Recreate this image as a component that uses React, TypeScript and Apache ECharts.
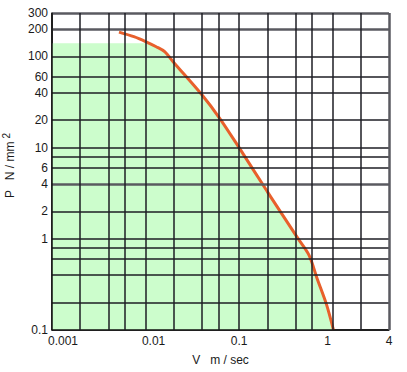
import React, { useEffect, useRef } from "react";
import * as echarts from "echarts";

// Curve of permissible load P (N/mm²) vs sliding speed V (m/sec)
const curveV = [0.0052, 0.0075, 0.01, 0.013, 0.016, 0.02, 0.04, 0.062, 0.1, 0.2, 0.42, 0.56, 0.68, 0.86, 1.02];
const curveP = [185, 165, 146, 128, 113, 86, 38, 21, 10, 3.3, 1.03, 0.66, 0.37, 0.19, 0.1];

// Upper pressure limit of the shaded region and where it meets the curve
const limitP = 140;
const limitV = 0.011;

// Axis extents
const xMin = 0.001;
const xMax = 4;
const yMin = 0.1;
const yMax = 300;

// Grid lines and labels
const xGridValues = [0.002, 0.004, 0.006, 0.01, 0.02, 0.04, 0.06, 0.1, 0.2, 0.4, 0.6, 1, 2];
const yGridValues = [0.2, 0.4, 0.6, 0.8, 1, 2, 4, 6, 8, 10, 20, 40, 60, 100, 200];
const yLabelValues = [0.1, 1, 2, 4, 6, 10, 20, 40, 60, 100, 200, 300];
const thickYValues = [4, 200, 300];

const FONT = "'Liberation Sans', Arial, sans-serif";
const TEXT = "#1a1a1a";
const GRID = "#1e1e24";
const THICK = "#5a5a60";
const AXIS = "#111111";

export default function App() {
  const ref = useRef<HTMLDivElement>(null);

  useEffect(() => {
    if (!ref.current) return;
    const chart = echarts.init(ref.current, null, { renderer: "svg" });

    const curveData = curveV.map((v, i) => [v, curveP[i]]);
    const greenPoly: number[][] = [
      [xMin, yMin],
      [xMin, limitP],
      [limitV, limitP],
      ...curveData.filter((d) => d[1] < limitP),
      [curveV[curveV.length - 1], yMin],
    ];

    const hLines = [yMin, ...yGridValues, yMax].map((v) => ({
      yAxis: v,
      lineStyle: {
        color: v === yMin ? AXIS : thickYValues.includes(v) ? THICK : GRID,
        width: thickYValues.includes(v) ? 2.5 : 1.5,
        type: "solid",
      },
      label: {
        show: yLabelValues.includes(v),
        position: "start",
        distance: 4,
        formatter: String(v),
        color: TEXT,
        fontSize: 12,
        fontFamily: FONT,
      },
    }));
    const vLines = [xMin, ...xGridValues, xMax].map((v) => ({
      xAxis: v,
      lineStyle: {
        color: v === xMin ? AXIS : v === xMax ? THICK : GRID,
        width: v === xMax ? 2.5 : 1.5,
        type: "solid",
      },
      label: { show: false },
    }));

    const xLabelPad: Record<string, number[]> = {
      "0.001": [0, 0, 0, 22],
      "0.01": [0, 0, 0, 16],
      "1": [0, 10, 0, 0],
    };

    chart.setOption({
      animation: false,
      backgroundColor: "#ffffff",
      grid: {
        left: 52,
        right: 18,
        top: 13,
        bottom: 42,
        containLabel: false,
        outerBoundsMode: "none",
      },
      xAxis: {
        type: "log",
        logBase: 10,
        min: xMin,
        max: xMax,
        name: "V   m / sec",
        nameLocation: "middle",
        nameGap: 24,
        nameTextStyle: { color: TEXT, fontSize: 12, fontFamily: FONT },
        axisLine: { show: true, lineStyle: { color: AXIS, width: 1.5 } },
        axisTick: { show: false },
        splitLine: { show: false },
        axisLabel: {
          margin: 5,
          color: TEXT,
          fontSize: 12,
          fontFamily: FONT,
          showMinLabel: true,
          showMaxLabel: true,
          formatter: (val: number) => {
            const s = String(parseFloat(val.toPrecision(6)));
            return xLabelPad[s] ? `{p${s.replace(".", "_")}|${s}}` : s;
          },
          rich: Object.fromEntries(
            Object.entries(xLabelPad).map(([k, pad]) => [
              `p${k.replace(".", "_")}`,
              { padding: pad, color: TEXT, fontSize: 12, fontFamily: FONT },
            ])
          ),
        },
      },
      yAxis: {
        type: "log",
        logBase: 10,
        min: yMin,
        max: yMax,
        name: "P   N / mm{s|2}",
        nameLocation: "middle",
        nameGap: 34,
        nameTextStyle: {
          color: TEXT,
          fontSize: 12,
          fontFamily: FONT,
          padding: [0, 0, 0, 12],
          rich: {
            s: { fontSize: 10, fontFamily: FONT, color: TEXT, padding: [0, 0, 7, 3] },
          },
        },
        axisLine: { show: true, lineStyle: { color: AXIS, width: 1.5 } },
        axisTick: { show: false },
        splitLine: { show: false },
        axisLabel: { show: false },
      },
      series: [
        {
          type: "custom",
          z: 1,
          silent: true,
          data: [[xMin, yMin]],
          encode: { x: 0, y: 1 },
          renderItem: (params: any, api: any) => {
            if (params.dataIndex !== 0) return null;
            const pts = greenPoly.map((p) => api.coord(p));
            return {
              type: "polygon",
              shape: { points: pts },
              style: { fill: "#ccfdcc", stroke: "none" },
              silent: true,
            };
          },
        },
        {
          type: "line",
          z: 2,
          silent: true,
          data: [[xMin, yMin]],
          symbol: "none",
          lineStyle: { width: 0 },
          markLine: {
            silent: true,
            precision: 8,
            symbol: ["none", "none"],
            animation: false,
            data: [...hLines, ...vLines],
          },
        },
        {
          type: "line",
          z: 3,
          silent: true,
          data: curveData,
          symbol: "none",
          smooth: 0.3,
          lineStyle: { color: "#e8602c", width: 3 },
        },
      ],
    });

    return () => chart.dispose();
  }, []);

  return (
    <div
      ref={ref}
      style={{ position: "absolute", left: 0, top: 0, width: 407, height: 372, background: "#fff" }}
    />
  );
}
